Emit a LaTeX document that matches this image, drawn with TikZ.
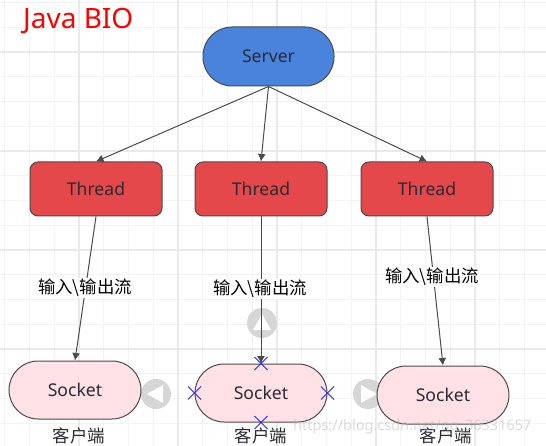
\documentclass[tikz,border=0pt]{standalone}
\usepackage{fontspec}
\setmainfont{Noto Sans}
\newfontfamily\cjk{Noto Sans CJK SC}
\definecolor{gridminor}{HTML}{F3F3F3}
\definecolor{gridmajor}{HTML}{EAEAEA}
\definecolor{edgecol}{HTML}{4A4A4A}
\definecolor{serverfill}{HTML}{4A83DB}
\definecolor{threadfill}{HTML}{E5484A}
\definecolor{socketfill}{HTML}{FFE1E6}
\definecolor{txtcol}{HTML}{2A2A33}
\usetikzlibrary{arrows.meta}
\tikzset{
  shapebase/.style={draw=edgecol,line width=1pt,inner sep=0pt,minimum width=132pt,text=txtcol,font=\fontsize{17.6}{20}\selectfont},
  serverbox/.style={shapebase,fill=serverfill,minimum height=59pt,rounded corners=29pt},
  threadbox/.style={shapebase,fill=threadfill,minimum height=54pt,rounded corners=8pt},
  socketbox/.style={shapebase,fill=socketfill,minimum height=58pt,rounded corners=29pt},
  conn/.style={draw=edgecol,line width=1pt,-{Latex[length=7.5pt,width=8pt]}},
  flowlabel/.style={inner sep=1pt,fill=white,text=black,font=\cjk\fontsize{17.4}{20}\selectfont},
  clientlabel/.style={inner sep=0pt,text=txtcol,font=\cjk\fontsize{17.4}{20}\selectfont},
  handlecircle/.style={circle,fill=black!16,minimum size=30pt,inner sep=0pt},
  xmark/.style={draw=blue!85!white,line width=0.8pt},
}
\begin{document}
\begin{tikzpicture}[x=1pt,y=-1pt]
\useasboundingbox (0,0) rectangle (546,446);
\fill[white] (0,0) rectangle (546,446);
% grid
\foreach \i in {0,...,22}{
  \draw[gridminor,line width=1pt] ({4.5+24.75*\i},0) -- ({4.5+24.75*\i},446);
}
\foreach \i in {0,...,18}{
  \draw[gridminor,line width=1pt] (0,{2.5+24.75*\i}) -- (546,{2.5+24.75*\i});
}
\foreach \i in {0,...,4}{
  \draw[gridmajor,line width=1.2pt] ({79+99*\i},0) -- ({79+99*\i},446);
}
\foreach \i in {0,...,3}{
  \draw[gridmajor,line width=1.2pt] (0,{52+99*\i}) -- (546,{52+99*\i});
}
% title
\node[name=title,anchor=west,inner sep=0pt,text=red,font=\fontsize{28}{33}\selectfont] at (23,21) {Java BIO};
% handles (under the connectors)
\node[handlecircle] (hu) at (262,323) {};
\fill[white] (262,314) -- (271,330) -- (253,330) -- cycle;
\node[handlecircle] (hl) at (156,394) {};
\fill[white] (147,394) -- (163,385) -- (163,403) -- cycle;
\node[handlecircle] (hr) at (368,394) {};
\fill[white] (377,394) -- (361,385) -- (361,403) -- cycle;
% nodes
\node[serverbox,minimum width=131pt] (server) at (268.5,56.5) {Server};
\node[threadbox] (t1) at (96,189) {Thread};
\node[threadbox] (t2) at (261,189) {Thread};
\node[threadbox] (t3) at (427,189) {Thread};
\node[socketbox] (s1) at (75,390) {Socket};
\node[socketbox] (s2) at (261,393) {Socket};
\node[socketbox] (s3) at (443,395) {Socket};
% connectors
\draw[conn] (server.south) -- (t1.north);
\draw[conn] (server.south) -- (t2.north);
\draw[conn] (server.south) -- (t3.north);
\draw[conn] (t1.south) -- (s1.north);
\draw[conn] (t2.south) -- (s2.north);
\draw[conn] (t3.south) -- (s3.north);
% labels
\node[flowlabel] (l1) at (85,288) {输入\textbackslash 输出流};
\node[flowlabel] (l2) at (260,289) {输入\textbackslash 输出流};
\node[flowlabel] (l3) at (432,277) {输入\textbackslash 输出流};
\node[clientlabel] (c1) at (79,436) {客户端};
\node[clientlabel] (c2) at (261,436) {客户端};
\node[clientlabel] (c3) at (446,436) {客户端};
% blue crosses
\foreach \p in {(s2.north),(s2.south),(s2.west),(s2.east)}{
  \draw[xmark] \p ++(-6.5,-6.5) -- ++(13,13);
  \draw[xmark] \p ++(6.5,-6.5) -- ++(-13,13);
}
% watermark
\node[anchor=west,inner sep=0pt,text=black!30,opacity=0.45,font=\fontsize{14.5}{17}\selectfont] (wm) at (293,427) {https://blog.csdn.net/qq\_36331657};
\end{tikzpicture}
\end{document}
